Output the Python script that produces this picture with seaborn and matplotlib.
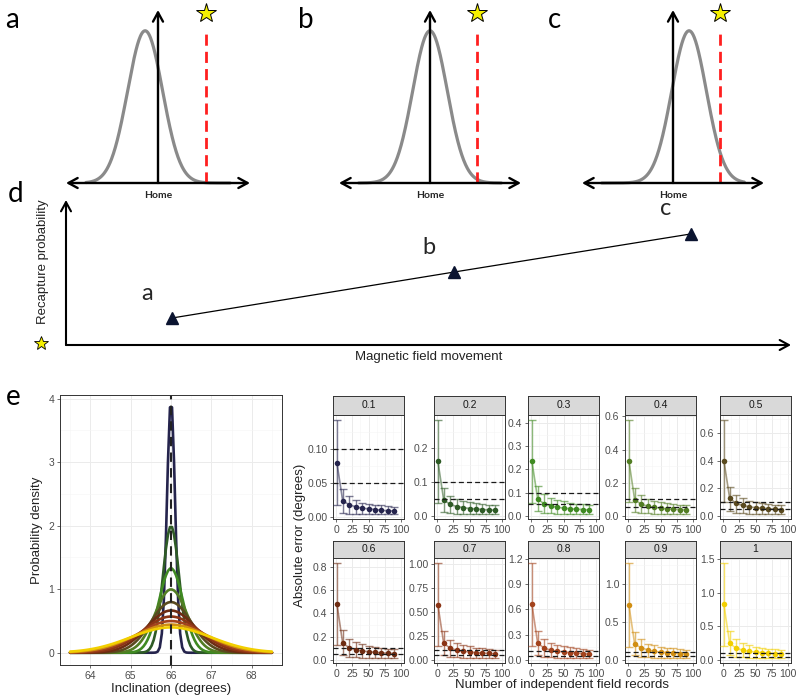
import numpy as np
import pandas as pd
import matplotlib
matplotlib.use("Agg")
import matplotlib.pyplot as plt
from matplotlib.ticker import FixedLocator
import seaborn as sns

# ---- panels a-c: schematic distributions around home ----
top_letters = ["a", "b", "c"]
curve_centres = [-0.42, 0.0, 0.53]
curve_sd = 0.57
curve_peak = 0.88
star_position = 1.55

# ---- panel d: recapture probability vs field movement ----
field_movement = [0.146, 0.535, 0.862]
recapture_prob = [0.186, 0.503, 0.766]
point_labels = ["a", "b", "c"]

# ---- panel e: inclination densities ----
home_inclination = 66.0
error_sds = [0.1, 0.2, 0.3, 0.4, 0.5, 0.6, 0.7, 0.8, 0.9, 1.0]
sd_labels = ["0.1", "0.2", "0.3", "0.4", "0.5", "0.6", "0.7", "0.8", "0.9", "1"]
sd_colours = ["#25244d", "#2e5b26", "#3f8a22", "#527d23", "#5a4a1f",
              "#6e2c12", "#8b3415", "#a3431d", "#d18e12", "#f2cf00"]

# ---- panel e: absolute error vs number of records ----
record_counts = [1, 10, 20, 30, 40, 50, 60, 70, 80, 90]
mean_error = [
    [0.080, 0.024, 0.018, 0.015, 0.013, 0.012, 0.011, 0.010, 0.009, 0.009],
    [0.162, 0.048, 0.034, 0.028, 0.025, 0.022, 0.021, 0.019, 0.018, 0.017],
    [0.236, 0.073, 0.052, 0.043, 0.037, 0.034, 0.031, 0.029, 0.027, 0.026],
    [0.332, 0.097, 0.070, 0.058, 0.051, 0.046, 0.042, 0.039, 0.037, 0.035],
    [0.400, 0.127, 0.090, 0.075, 0.065, 0.059, 0.055, 0.051, 0.048, 0.045],
    [0.483, 0.144, 0.105, 0.088, 0.077, 0.070, 0.065, 0.060, 0.057, 0.054],
    [0.579, 0.172, 0.122, 0.100, 0.090, 0.082, 0.075, 0.070, 0.066, 0.062],
    [0.660, 0.197, 0.140, 0.115, 0.102, 0.093, 0.086, 0.080, 0.075, 0.071],
    [0.727, 0.207, 0.160, 0.132, 0.112, 0.103, 0.095, 0.088, 0.083, 0.078],
    [0.825, 0.245, 0.175, 0.145, 0.128, 0.117, 0.108, 0.100, 0.094, 0.089],
]
lower_error = [
    [0.017, 0.006, 0.004, 0.004, 0.004, 0.004, 0.004, 0.004, 0.004, 0.004],
    [0.038, 0.013, 0.008, 0.007, 0.006, 0.006, 0.005, 0.005, 0.005, 0.005],
    [0.057, 0.019, 0.013, 0.011, 0.009, 0.009, 0.008, 0.008, 0.007, 0.007],
    [0.082, 0.025, 0.017, 0.014, 0.012, 0.011, 0.010, 0.010, 0.009, 0.009],
    [0.100, 0.035, 0.023, 0.019, 0.016, 0.015, 0.014, 0.013, 0.012, 0.011],
    [0.125, 0.040, 0.028, 0.023, 0.020, 0.018, 0.017, 0.016, 0.015, 0.014],
    [0.140, 0.047, 0.032, 0.026, 0.023, 0.021, 0.020, 0.018, 0.017, 0.016],
    [0.162, 0.054, 0.036, 0.030, 0.026, 0.024, 0.022, 0.021, 0.020, 0.019],
    [0.170, 0.060, 0.042, 0.034, 0.030, 0.027, 0.025, 0.024, 0.022, 0.021],
    [0.210, 0.068, 0.048, 0.040, 0.035, 0.032, 0.029, 0.027, 0.026, 0.025],
]
upper_error = [
    [0.143, 0.041, 0.031, 0.025, 0.021, 0.019, 0.018, 0.017, 0.016, 0.015],
    [0.285, 0.082, 0.060, 0.050, 0.045, 0.040, 0.037, 0.035, 0.033, 0.031],
    [0.414, 0.128, 0.093, 0.078, 0.068, 0.062, 0.057, 0.053, 0.050, 0.047],
    [0.580, 0.167, 0.123, 0.103, 0.090, 0.082, 0.076, 0.070, 0.066, 0.063],
    [0.696, 0.212, 0.152, 0.126, 0.110, 0.100, 0.092, 0.086, 0.081, 0.077],
    [0.834, 0.253, 0.182, 0.150, 0.132, 0.120, 0.110, 0.103, 0.097, 0.092],
    [1.018, 0.300, 0.212, 0.176, 0.155, 0.140, 0.128, 0.120, 0.113, 0.107],
    [1.150, 0.340, 0.243, 0.200, 0.176, 0.160, 0.147, 0.137, 0.129, 0.122],
    [1.285, 0.368, 0.278, 0.215, 0.190, 0.175, 0.162, 0.151, 0.142, 0.135],
    [1.445, 0.425, 0.305, 0.250, 0.215, 0.195, 0.180, 0.168, 0.158, 0.150],
]
reference_errors = [0.05, 0.10]
y_breaks = [
    [0.0, 0.05, 0.10, 0.15],
    [0.0, 0.1, 0.2],
    [0.0, 0.1, 0.2, 0.3, 0.4],
    [0.0, 0.2, 0.4, 0.6],
    [0.0, 0.2, 0.4, 0.6],
    [0.0, 0.2, 0.4, 0.6, 0.8],
    [0.0, 0.25, 0.50, 0.75, 1.00],
    [0.0, 0.3, 0.6, 0.9, 1.2],
    [0.0, 0.5, 1.0],
    [0.0, 0.5, 1.0, 1.5],
]
y_break_labels = [
    ["0.00", "0.05", "0.10", "0.15"],
    ["0.0", "0.1", "0.2"],
    ["0.0", "0.1", "0.2", "0.3", "0.4"],
    ["0.0", "0.2", "0.4", "0.6"],
    ["0.0", "0.2", "0.4", "0.6"],
    ["0.0", "0.2", "0.4", "0.6", "0.8"],
    ["0.00", "0.25", "0.50", "0.75", "1.00"],
    ["0.0", "0.3", "0.6", "0.9", "1.2"],
    ["0.0", "0.5", "1.0"],
    ["0.0", "0.5", "1.0", "1.5"],
]
x_breaks = [0, 25, 50, 75, 100]

sns.set_theme(style="white")
plt.rcParams["font.family"] = ["Liberation Sans", "DejaVu Sans"]

W, H = 800, 696
fig = plt.figure(figsize=(W / 100, H / 100), dpi=100)


def px_axes(x0, y0, x1, y1):
    return fig.add_axes([x0 / W, 1 - y1 / H, (x1 - x0) / W, (y1 - y0) / H])


def blank(ax):
    ax.set_axis_off()
    ax.patch.set_alpha(0)


LETTER_FONT = dict(family=["Lato", "DejaVu Sans"], fontsize=20, color="black")
ARROW = dict(arrowstyle="<->,head_length=0.55,head_width=0.3", color="black",
             lw=1.7, shrinkA=0, shrinkB=0, mutation_scale=12)
UP_ARROW = dict(ARROW, arrowstyle="->,head_length=0.55,head_width=0.3")

# ---- a, b, c ----
top_spans = [(66, 250), (339, 521), (582, 764)]
letter_x = [5, 298, 548]
for i in range(3):
    x0, x1 = top_spans[i]
    ax = px_axes(x0, 10, x1, 183)
    blank(ax)
    ax.set_xlim(-3, 3)
    ax.set_ylim(0, 1)
    xs = np.linspace(-2.35, 2.35, 300)
    ys = curve_peak * np.exp(-0.5 * ((xs - curve_centres[i]) / curve_sd) ** 2)
    sns.lineplot(x=xs, y=ys, color="#8a8a8a", lw=2.3, ax=ax, clip_on=False)
    ax.plot([star_position, star_position], [0, curve_peak], color="#ff1f1f",
            lw=2, ls=(0, (4, 2.2)), clip_on=False)
    ax.plot([star_position], [0.985], marker="*", ms=15, mfc="#f5f000",
            mec="black", mew=0.7, clip_on=False)
    ax.annotate("", xy=(-3, 0), xytext=(3, 0), arrowprops=ARROW)
    ax.annotate("", xy=(0, 1.0), xytext=(0, 0), arrowprops=UP_ARROW)
    ax.text(0, -0.072, "Home", ha="center", va="center", fontsize=7.5,
            fontweight="bold", family=["Lato", "DejaVu Sans"])
    fig.text(letter_x[i] / W, 1 - 20 / H, top_letters[i], ha="left",
             va="center", **LETTER_FONT)

# ---- d ----
ax = px_axes(66, 200, 791, 345)
blank(ax)
ax.set_xlim(0, 1)
ax.set_ylim(0, 1)
ax.annotate("", xy=(0, 1), xytext=(0, 0), arrowprops=dict(UP_ARROW, lw=1.5))
ax.annotate("", xy=(1, 0), xytext=(0, 0), arrowprops=dict(UP_ARROW, lw=1.5))
sns.lineplot(x=field_movement, y=recapture_prob, color="black", lw=0.9, ax=ax)
ax.plot(field_movement, recapture_prob, ls="none", marker="^", ms=9,
        color="#0b1430", zorder=5)
for xm, yp, lab in zip(field_movement, recapture_prob, point_labels):
    ax.annotate(lab, (xm, yp), xytext=(-18, 18), textcoords="offset points",
                ha="center", va="center", family=["Lato", "DejaVu Sans"],
                fontsize=17)
fig.text(8 / W, 1 - 194 / H, "d", ha="left", va="center", **LETTER_FONT)
fig.text(43 / W, 1 - 262 / H, "Recapture probability", rotation=90,
         ha="center", va="center", fontsize=9.5, color="#222222")
fig.text(429 / W, 1 - 357 / H, "Magnetic field movement", ha="center",
         va="center", fontsize=9.5, color="#222222")
fig.add_artist(plt.Line2D([41 / W], [1 - 343 / H], marker="*", ms=10,
                          mfc="#f5f000", mec="black", mew=0.6))

# ---- e: density ----
GRID_MAJ = dict(color="#ebebeb", lw=0.7)
GRID_MIN = dict(color="#f5f5f5", lw=0.4)
TICK_COL = "#4d4d4d"


def gg_axes(ax, fs):
    ax.set_facecolor("white")
    ax.set_axisbelow(True)
    ax.grid(which="major", **GRID_MAJ)
    ax.grid(which="minor", **GRID_MIN)
    for s in ax.spines.values():
        s.set_visible(True)
        s.set_color("#333333")
        s.set_linewidth(0.7)
    ax.tick_params(which="major", length=2.5, width=0.5, color="#333333",
                   labelsize=fs, labelcolor=TICK_COL, pad=1.5,
                   bottom=True, left=True)
    ax.tick_params(which="minor", length=0)


x_incl = np.linspace(63.5, 68.5, 100)
dens = pd.concat([
    pd.DataFrame({"inclination": x_incl,
                  "density": np.exp(-0.5 * ((x_incl - home_inclination) / sd) ** 2)
                  / (sd * np.sqrt(2 * np.pi)),
                  "sd": lab})
    for sd, lab in zip(error_sds, sd_labels)
])
ax = px_axes(60, 395, 282, 665)
sns.lineplot(data=dens, x="inclination", y="density", hue="sd",
             hue_order=sd_labels, palette=dict(zip(sd_labels, sd_colours)),
             lw=1.9, legend=False, ax=ax)
ax.axvline(home_inclination, color="#222222", lw=1.5, ls=(0, (4.5, 3)))
dmax = dens["density"].max()
ax.set_xlim(63.25, 68.75)
ax.set_ylim(-0.05 * dmax, 1.05 * dmax)
ax.xaxis.set_major_locator(FixedLocator([64, 65, 66, 67, 68]))
ax.xaxis.set_minor_locator(FixedLocator([63.5, 64.5, 65.5, 66.5, 67.5, 68.5]))
ax.yaxis.set_major_locator(FixedLocator([0, 1, 2, 3, 4]))
ax.yaxis.set_minor_locator(FixedLocator([0.5, 1.5, 2.5, 3.5]))
gg_axes(ax, 7.5)
ax.set_xlabel("Inclination (degrees)", fontsize=9.5, color="#222222", labelpad=2)
ax.set_ylabel("Probability density", fontsize=9.5, color="#222222", labelpad=4)
fig.text(13 / W, 1 - 397 / H, "e", ha="center", va="center", **LETTER_FONT)

# ---- e: error facets ----
panel_left = [333, 434, 528, 625, 720]
PW = 71
strip_rows = [(396, 415), (541, 558)]
panel_rows = [(415, 519), (558, 663)]
for i in range(10):
    r, c = divmod(i, 5)
    x0 = panel_left[c]
    st, sb = strip_rows[r]
    pt, pb = panel_rows[r]
    col = sd_colours[i]
    m = np.array(mean_error[i])
    lo = np.array(lower_error[i])
    hi = np.array(upper_error[i])

    sax = px_axes(x0, st, x0 + PW, sb)
    sax.set_xticks([])
    sax.set_yticks([])
    sax.set_facecolor("#d9d9d9")
    for s in sax.spines.values():
        s.set_color("#333333")
        s.set_linewidth(0.7)
    sax.text(0.5, 0.5, sd_labels[i], ha="center", va="center", fontsize=7.5,
             color="#1a1a1a", transform=sax.transAxes)

    ax = px_axes(x0, pt, x0 + PW, pb)
    ax.errorbar(record_counts, m, yerr=[m - lo, hi - m], fmt="none",
                ecolor=col, alpha=0.6, elinewidth=1.0, capsize=2.6,
                capthick=1.0, zorder=3)
    sns.lineplot(x=record_counts, y=m, color=col, alpha=0.55, lw=1.2, ax=ax,
                 zorder=3)
    sns.scatterplot(x=record_counts, y=m, color=col, s=16, linewidth=0,
                    ax=ax, zorder=4)
    for h in reference_errors:
        ax.axhline(h, color="#1a1a1a", lw=0.9, ls=(0, (4, 2.5)), zorder=5)
    ymin = min(lo.min(), min(reference_errors))
    ymax = max(hi.max(), max(reference_errors))
    pad = 0.05 * (ymax - ymin)
    ax.set_ylim(ymin - pad, ymax + pad)
    ax.set_xlim(-5, 105)
    yb = y_breaks[i]
    ax.yaxis.set_major_locator(FixedLocator(yb))
    ax.set_yticklabels(y_break_labels[i])
    step = yb[1] - yb[0]
    ax.yaxis.set_minor_locator(FixedLocator([b + step / 2 for b in [yb[0] - step] + yb]))
    ax.xaxis.set_major_locator(FixedLocator(x_breaks))
    ax.set_xticklabels([str(v) for v in x_breaks])
    ax.xaxis.set_minor_locator(FixedLocator([12.5, 37.5, 62.5, 87.5]))
    gg_axes(ax, 7.5)
    ax.set_xlabel("")
    ax.set_ylabel("")

fig.text(300 / W, 1 - 535 / H, "Absolute error (degrees)", rotation=90,
         ha="center", va="center", fontsize=9.5, color="#222222")
fig.text(562 / W, 1 - 685 / H, "Number of independent field records",
         ha="center", va="center", fontsize=9.5, color="#222222")

fig.savefig("out.png", dpi=100, facecolor="white")
